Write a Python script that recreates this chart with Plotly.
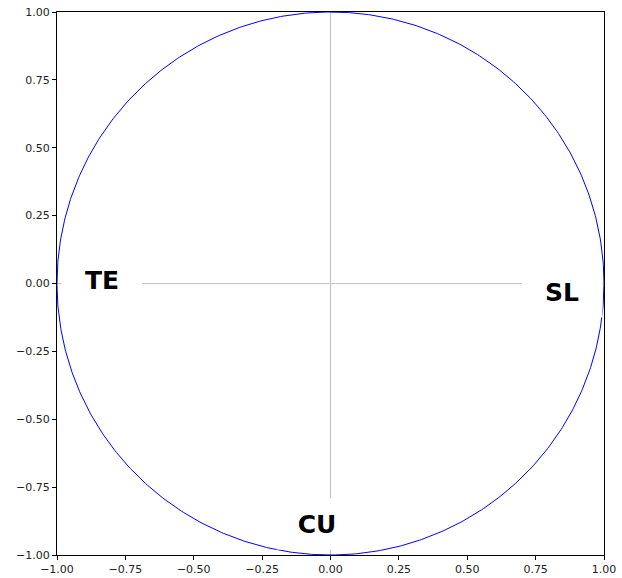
import numpy as np
import plotly.graph_objects as go

# Variable labels and where they sit on the correlation circle
labels = ["TE", "SL", "CU"]
label_x = [-0.837, 0.845, -0.05]
label_y = [0.012, -0.03, -0.885]

# Axis ticks
tick_vals = [-1.0, -0.75, -0.5, -0.25, 0.0, 0.25, 0.5, 0.75, 1.0]
tick_text = [f"{v:.2f}".replace("-", "\u2212") for v in tick_vals]

# Unit circle outline
theta = np.linspace(0, 2 * np.pi, 721)
circle_x = np.cos(theta)
circle_y = np.sin(theta)

fig = go.Figure()

# Reference cross through the origin
fig.add_trace(go.Scatter(x=[-1, 1], y=[0, 0], mode="lines",
                         line=dict(color="#c4c4c4", width=1.2),
                         hoverinfo="skip", showlegend=False))
fig.add_trace(go.Scatter(x=[0, 0], y=[-1, 1], mode="lines",
                         line=dict(color="#c4c4c4", width=1.2),
                         hoverinfo="skip", showlegend=False))

fig.add_trace(go.Scatter(x=circle_x, y=circle_y, mode="lines",
                         line=dict(color="#0000ff", width=1),
                         hoverinfo="skip", showlegend=False, cliponaxis=False))

for name, x, y in zip(labels, label_x, label_y):
    fig.add_annotation(x=x, y=y, xref="x", yref="y", text=f"<b>{name}</b>",
                       showarrow=False, bgcolor="white", borderpad=0,
                       width=80, height=50,
                       font=dict(family="DejaVu Sans", size=25, color="black"))

axis_common = dict(range=[-1, 1], tickmode="array", tickvals=tick_vals,
                   ticktext=tick_text, showgrid=False, zeroline=False,
                   showline=True, linecolor="black", linewidth=1, mirror=True,
                   ticks="outside", ticklen=4, tickwidth=1, tickcolor="black",
                   automargin=False,
                   tickfont=dict(family="DejaVu Sans", size=11, color="#222"))

fig.update_xaxes(**axis_common)
fig.update_yaxes(**axis_common)

fig.update_layout(width=622, height=578,
                  margin=dict(l=57, r=18, t=12, b=23),
                  plot_bgcolor="white", paper_bgcolor="white",
                  showlegend=False)

fig.write_html("out.html")
